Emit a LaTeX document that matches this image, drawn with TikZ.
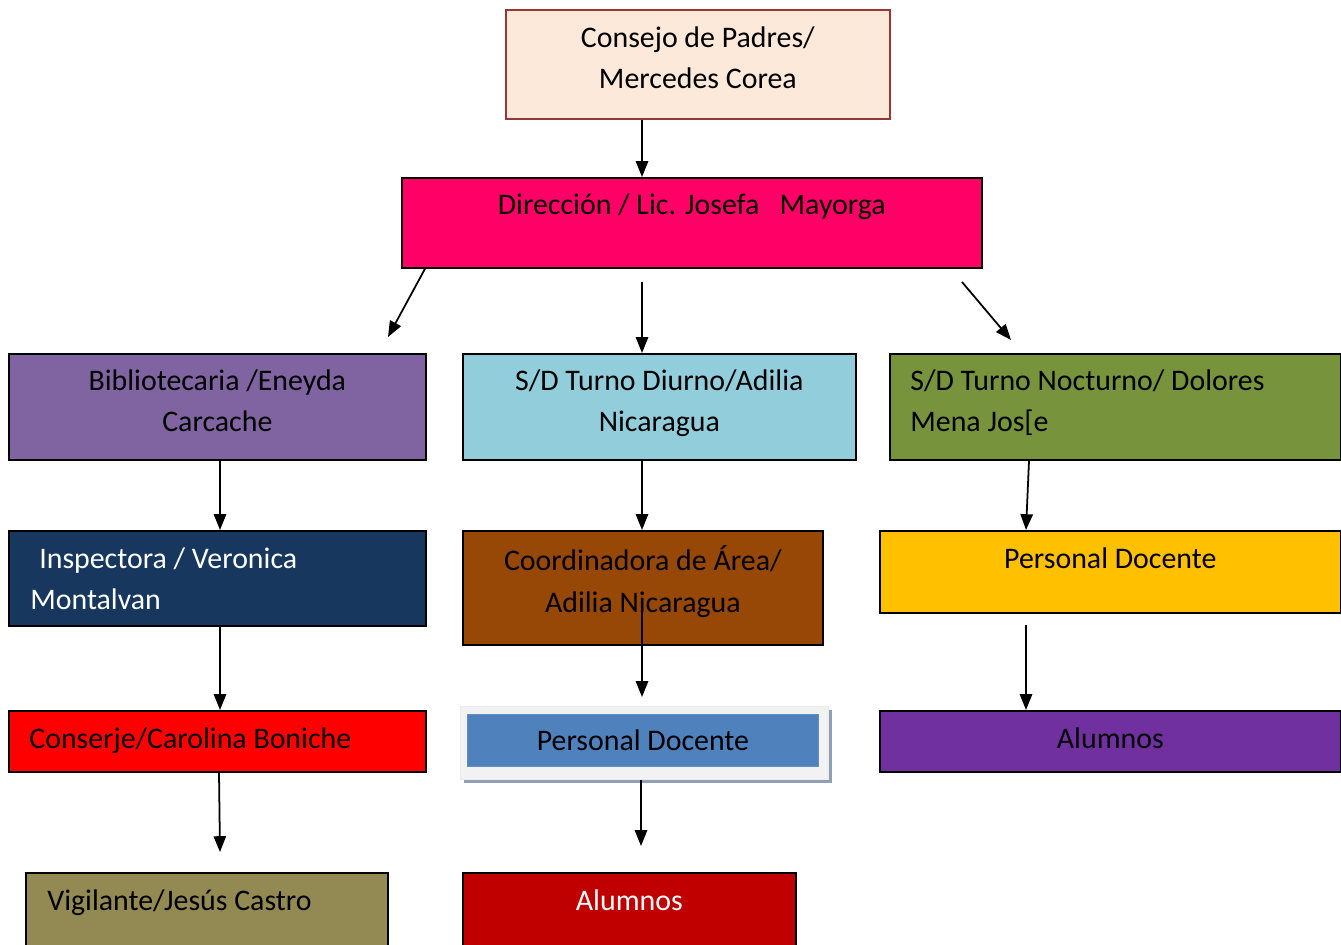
\documentclass[tikz,border=0pt]{standalone}
\usepackage{fontspec}
\setmainfont{Carlito}
\usepackage{tikz}
\usetikzlibrary{arrows.meta,positioning,shadows,calc}

\definecolor{padres}{HTML}{FDE9D9}
\definecolor{padresline}{HTML}{953735}
\definecolor{direc}{HTML}{FF0066}
\definecolor{biblio}{HTML}{8064A2}
\definecolor{diurno}{HTML}{92CDDC}
\definecolor{nocturno}{HTML}{77933C}
\definecolor{inspec}{HTML}{17375E}
\definecolor{coordin}{HTML}{974706}
\definecolor{docamar}{HTML}{FFC000}
\definecolor{docazul}{HTML}{4F81BD}
\definecolor{alumlila}{HTML}{7030A0}
\definecolor{vigil}{HTML}{938953}
\definecolor{alumrojo}{HTML}{C00000}
\definecolor{sombra}{HTML}{8FA0B6}

\tikzset{
  org/.style={draw=black, line width=1pt, rectangle, inner sep=0pt, anchor=north west},
  txt/.style={font=\fontsize{17}{23.8}\selectfont, inner sep=0pt, align=center},
  arr/.style={-{Triangle[length=9pt,width=7pt]}, line width=1pt}
}

\begin{document}
\begin{tikzpicture}[x=0.02cm, y=-0.02cm]
\useasboundingbox (0,0) rectangle (1341,944);
\clip (0,0) rectangle (1341,944);

% boxes
\node[org, draw=padresline, fill=padres, minimum width=7.68cm, minimum height=2.18cm] (consejo) at (505,9) {};
\node[org, fill=direc, minimum width=11.6cm, minimum height=1.8cm] (direccion) at (401,177) {};
\node[org, fill=biblio, minimum width=8.34cm, minimum height=2.12cm] (bibliotecaria) at (8,353) {};
\node[org, fill=diurno, minimum width=7.86cm, minimum height=2.12cm] (diurno) at (462,353) {};
\node[org, fill=nocturno, minimum width=9.02cm, minimum height=2.12cm] (nocturno) at (889,353) {};
\node[org, fill=inspec, minimum width=8.34cm, minimum height=1.9cm] (inspectora) at (8,530) {};
\node[org, fill=coordin, minimum width=7.2cm, minimum height=2.28cm] (coordinadora) at (462,530) {};
\node[org, fill=docamar, minimum width=9.22cm, minimum height=1.64cm] (docnoct) at (879,530) {};
\node[org, fill=red, minimum width=8.34cm, minimum height=1.22cm] (conserje) at (8,710) {};
\node[org, draw=gray!15, line width=0.5pt, fill=gray!10, minimum width=7.36cm, minimum height=1.46cm,
  drop shadow={shadow xshift=0.07cm, shadow yshift=-0.07cm, fill=sombra, opacity=1}] (docframe) at (460,706) {};
\node[org, draw=docazul!90!white, line width=0.5pt, fill=docazul, minimum width=7.02cm, minimum height=1.04cm] (docdiur) at (467,714) {};
\node[org, fill=alumlila, minimum width=9.22cm, minimum height=1.22cm] (alumnoct) at (879,710) {};
\node[org, fill=vigil, minimum width=7.24cm, minimum height=2cm] (vigilante) at (25,872) {};
\node[org, fill=alumrojo, minimum width=6.66cm, minimum height=2cm] (alumdiur) at (462,872) {};

% texts
\node[txt, below=0.34cm of consejo.north] (t-consejo) {Consejo de Padres/\\Mercedes Corea};
\node[txt, below=0.32cm of direccion.north] (t-direccion) {Dirección / Lic. Josefa \ \ Mayorga};
\node[txt, below=0.32cm of bibliotecaria.north] (t-biblio) {Bibliotecaria /Eneyda\\Carcache};
\node[txt, below=0.32cm of diurno.north] (t-diurno) {S/D Turno Diurno/Adilia\\Nicaragua};
\node[txt, align=left, below right=0.32cm and 0.42cm of nocturno.north west] (t-nocturno) {S/D Turno Nocturno/ Dolores\\Mena Jos[e};
\node[txt, align=left, text=white, below right=0.34cm and 0.44cm of inspectora.north west] (t-inspectora) {\hspace*{0.3em}Inspectora / Veronica\\Montalvan};
\node[txt, below=0.3cm of coordinadora.north] (t-coord) {Coordinadora de Área/\\Adilia Nicaragua};
\node[txt, below=0.34cm of docnoct.north] (t-docnoct) {Personal Docente};
\node[txt, align=left, below right=0.34cm and 0.42cm of conserje.north west] (t-conserje) {Conserje/Carolina Boniche};
\node[txt] (t-docdiur) at (docdiur.center) {Personal Docente};
\node[txt, below=0.34cm of alumnoct.north] (t-alumnoct) {Alumnos};
\node[txt, align=left, below right=0.34cm and 0.44cm of vigilante.north west] (t-vigilante) {Vigilante/Jesús Castro};
\node[txt, text=white, below=0.34cm of alumdiur.north] (t-alumdiur) {Alumnos};

% free ends
\coordinate (mid) at (642,0);
\coordinate (lft) at (220,0);
\coordinate (rgt) at (1026,0);
\coordinate (d-lft) at (388,337);
\coordinate (d-mid) at (642,282);
\coordinate (d-rgt0) at (962,282);
\coordinate (d-rgt) at (1011,340);
\coordinate (c-top) at (642,612);
\coordinate (c-end) at (642,697);
\coordinate (a-top) at (1026,625);
\coordinate (v-end) at (220,852);
\coordinate (p-end) at (641,846);

% arrows
\draw[arr] (consejo.south -| mid) -- (direccion.north -| mid);
\draw[arr] ($(direccion.south west)+(24,0)$) -- (d-lft);
\draw[arr] (d-mid) -- (diurno.north -| mid);
\draw[arr] (d-rgt0) -- (d-rgt);
\draw[arr] (bibliotecaria.south -| lft) -- (inspectora.north -| lft);
\draw[arr] (diurno.south -| mid) -- (coordinadora.north -| mid);
\draw[arr] ($(nocturno.south west)+(140,0)$) -- ($(docnoct.north west)+(147,0)$);
\draw[arr] (inspectora.south -| lft) -- (conserje.north -| lft);
\draw[arr] (c-top) -- (c-end);
\draw[arr] (a-top) -- (alumnoct.north -| rgt);
\draw[arr] ($(conserje.south west)+(211,0)$) -- (v-end);
\draw[arr] ($(docframe.south west)+(181,0)$) -- (p-end);
\end{tikzpicture}
\end{document}
